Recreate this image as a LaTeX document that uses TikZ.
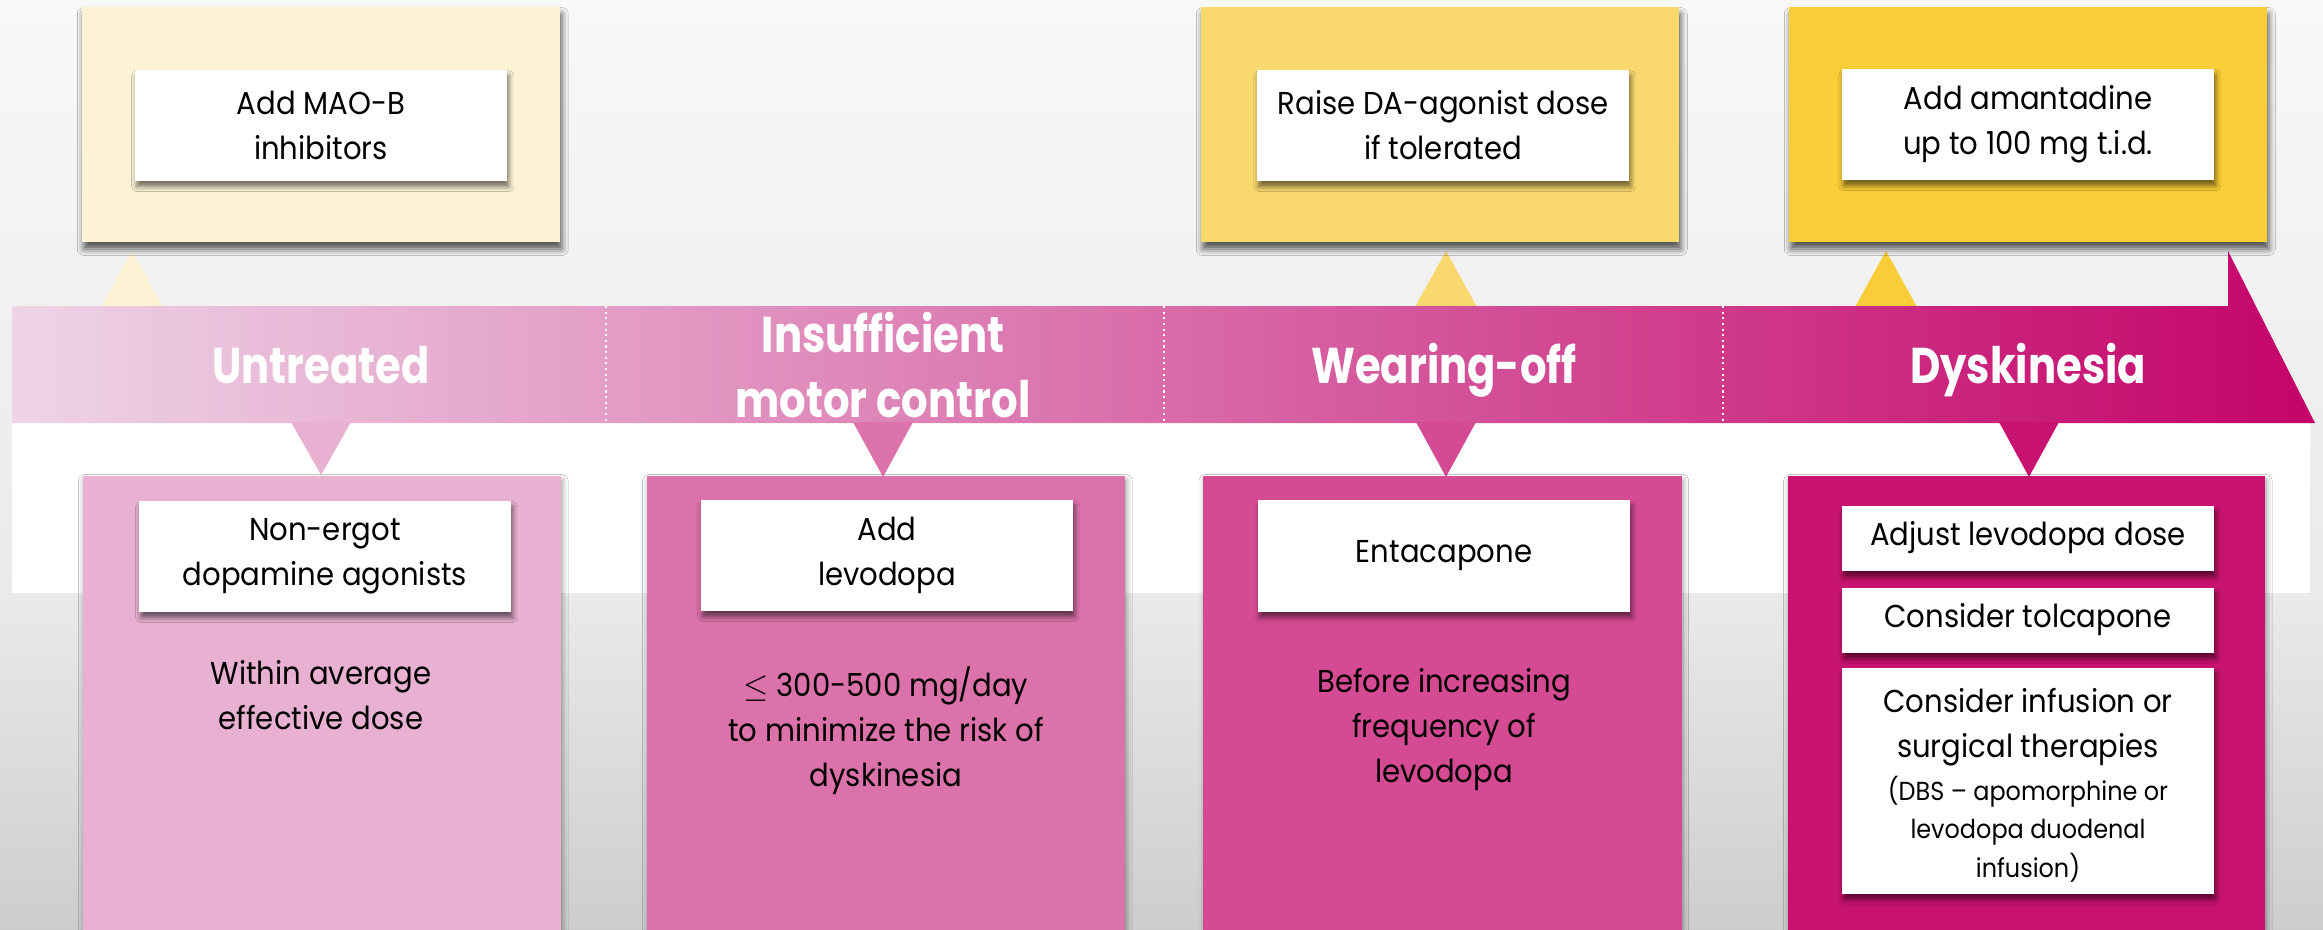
\documentclass[tikz,border=0pt]{standalone}
\usepackage{fontspec}
\setmainfont{Poppins}[FakeStretch=0.92]
\newfontfamily\headfont{Poppins}[FakeStretch=0.83]
\usetikzlibrary{shadows.blur}

\definecolor{bgtop}{HTML}{F8F8F8}
\definecolor{bgmid}{HTML}{EAEAEA}
\definecolor{bgbot}{HTML}{CDCDCD}
\definecolor{bandL}{HTML}{EED4E7}
\definecolor{bandR}{HTML}{C4046A}
\definecolor{yA}{HTML}{FDF3D4}
\definecolor{yB}{HTML}{F9D96E}
\definecolor{yC}{HTML}{F8CD38}
\definecolor{pA}{HTML}{E8B0D1}
\definecolor{pB}{HTML}{DC72AA}
\definecolor{pC}{HTML}{D44A93}
\definecolor{pD}{HTML}{C8126F}

\pgfdeclareverticalshading{bgshade}{100bp}{color(0bp)=(bgbot); color(25bp)=(bgbot); color(43bp)=(bgmid); color(75bp)=(bgtop); color(100bp)=(bgtop)}

\newcommand\txtbody{\fontsize{9}{12.8}\selectfont}
\newcommand\txtsmall{\fontsize{7.4}{11}\selectfont}
\newcommand\txthead{\headfont\bfseries\fontsize{14.3}{18.6}\selectfont}

\begin{document}
\begin{tikzpicture}[x=0.01cm, y=-0.01cm,
  topbox/.style={rectangle, inner sep=0pt, minimum width=4.78cm, minimum height=2.35cm,
    blur shadow={shadow xshift=0.5pt, shadow yshift=-2pt, shadow blur radius=1.8pt, shadow opacity=65}},
  lowbox/.style={rectangle, inner sep=0pt, minimum width=4.78cm, minimum height=4.7cm,
    blur shadow={shadow xshift=0.4pt, shadow yshift=-1.2pt, shadow blur radius=1.6pt, shadow opacity=40}},
  whitebox/.style={rectangle, fill=white, inner sep=0pt, minimum width=3.72cm, minimum height=1.11cm,
    align=center, font=\txtbody, text=black,
    blur shadow={shadow xshift=0.5pt, shadow yshift=-1.6pt, shadow blur radius=1.4pt, shadow opacity=55}},
  note/.style={inner sep=0pt, align=center, font=\txtbody, text=black},
  headlbl/.style={inner sep=0pt, align=center, font=\txthead, text=white},
  divider/.style={white, densely dotted, line width=0.6pt}
]
\useasboundingbox (0,0) rectangle (2323,930);
\clip (0,0) rectangle (2323,930);

% backdrop and the white strip under the timeline
\shade[shading=bgshade] (0,0) rectangle (2323,930);
\fill[white] (12,423) rectangle (2310,593);

% pointers rising to the upper cards
\fill[yA] (101,307) -- (132,251) -- (163,307) -- cycle;
\fill[yB] (1415,307) -- (1446,251) -- (1477,307) -- cycle;
\fill[yC] (1855,307) -- (1886,251) -- (1917,307) -- cycle;

% timeline arrow
\shade[left color=bandL, right color=bandR]
  (12,306) -- (2228,306) -- (2228,251) -- (2315,423) -- (12,423) -- cycle;
\draw[divider] (606,306) -- (606,423);
\draw[divider] (1164,306) -- (1164,423);
\draw[divider] (1723,306) -- (1723,423);

\node[headlbl, anchor=base] (untreated) at (321,383) {Untreated};
\node[headlbl] (insuff) at (883,365) {Insufficient\\motor control};
\node[headlbl, anchor=base] (wearing) at (1444,383) {Wearing-off};
\node[headlbl, anchor=base] (dysk) at (2028,383) {Dyskinesia};

% pointers dropping to the lower cards
\fill[pA] (291,422) -- (321,475) -- (351,422) -- cycle;
\fill[pB] (853,422) -- (883,477) -- (913,422) -- cycle;
\fill[pC] (1416,422) -- (1446,477) -- (1476,422) -- cycle;
\fill[pD] (1999,422) -- (2029,477) -- (2059,422) -- cycle;

% upper cards
\node[topbox, fill=yA] (maocard) at (321,124.5) {};
\node[whitebox] (mao) at (321,125.5) {Add MAO-B\\inhibitors};
\node[topbox, fill=yB] (dacard) at (1440,124.5) {};
\node[whitebox] (da) at (1443,125.5) {Raise DA-agonist dose\\if tolerated};
\node[topbox, fill=yC] (amacard) at (2028,124.5) {};
\node[whitebox] (ama) at (2028,124.5) {Add amantadine\\up to 100 mg t.i.d.};

% lower cards
\node[lowbox, fill=pA] (untcard) at (322,711) {};
\node[whitebox] (ergot) at (325,556.5) {Non-ergot\\dopamine agonists};
\node[note] (avgdose) at (321,695) {Within average\\effective dose};

\node[lowbox, fill=pB] (inscard) at (886,711) {};
\node[whitebox] (levo) at (887,555.5) {Add\\levodopa};
\node[note] (limit) at (886,730.5) {$\leq$ 300-500 mg/day\\to minimize the risk of\\dyskinesia};

\node[lowbox, fill=pC] (wearcard) at (1442.5,711) {};
\node[whitebox] (enta) at (1444,556) {Entacapone};
\node[note] (before) at (1444,730) {Before increasing\\frequency of\\levodopa};

\node[lowbox, fill=pD, minimum width=4.77cm] (dyscard) at (2026.5,711) {};
\node[whitebox, minimum height=0.65cm, text depth=0.5ex] (adjust) at (2028,538.5) {Adjust levodopa dose};
\node[whitebox, minimum height=0.65cm, text depth=0.5ex] (tolca) at (2028,620.5) {Consider tolcapone};
\node[whitebox, minimum height=2.26cm] (infbox) at (2028,781) {};
\node[note] (inftxt) at (2028,727.5) {Consider infusion or\\surgical therapies};
\node[note, font=\txtsmall] (infnote) at (2028,829) {(DBS – apomorphine or\\levodopa duodenal\\infusion)};
\end{tikzpicture}
\end{document}
